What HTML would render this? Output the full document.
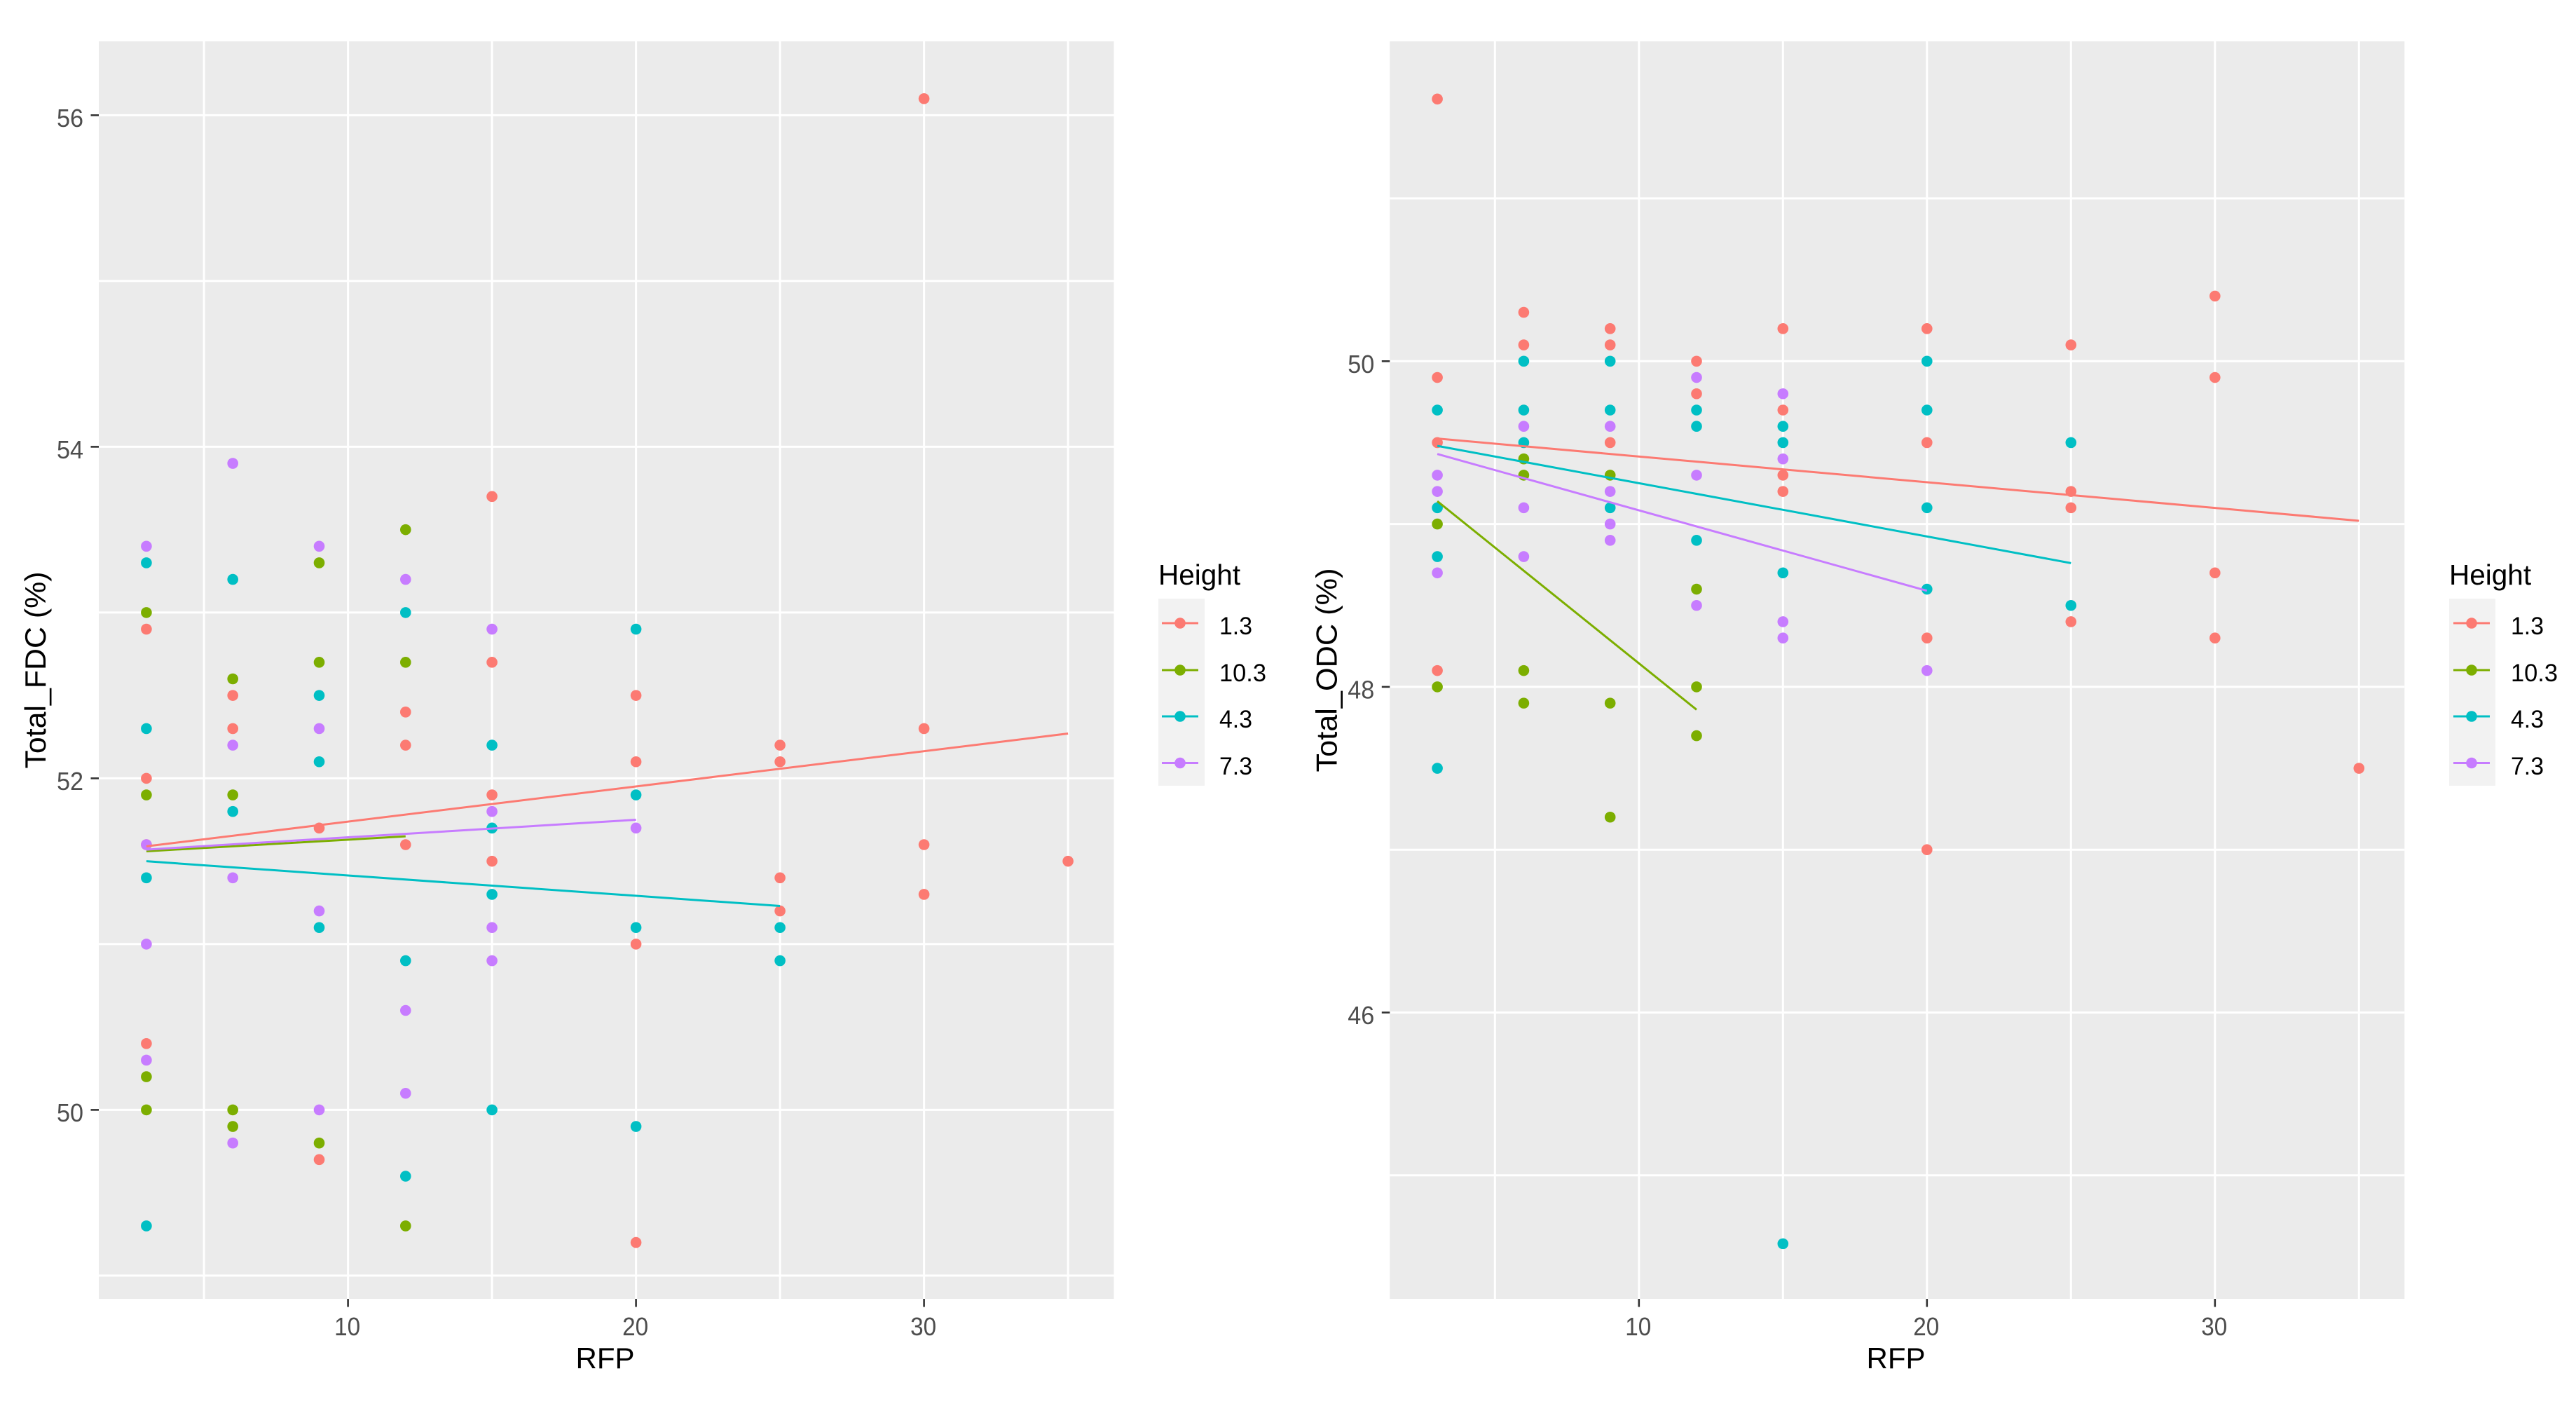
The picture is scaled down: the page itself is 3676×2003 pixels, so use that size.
<!DOCTYPE html>
<html lang="en">
<head>
<meta charset="utf-8">
<title>Total FDC and ODC versus RFP by Height</title>
<style>
html,body{margin:0;padding:0;background:#fff;}
svg{display:block;}
text{font-family:"Liberation Sans",Arial,sans-serif;}
.tick{fill:#4D4D4D;font-size:36px;}
.title{fill:#000;font-size:42px;}
.legt{fill:#000;font-size:40.5px;}
.legl{fill:#000;font-size:35px;}
</style>
</head>
<body>
<svg id="fig" xmlns="http://www.w3.org/2000/svg" width="3676" height="2003" viewBox="0 0 3676 2003">
  <rect x="0" y="0" width="3676" height="2003" fill="#fff"/>
  <g id="chart-fdc"></g>
  <g id="chart-odc"></g>

  <text class="title" x="863.5" y="1952" text-anchor="middle">RFP</text>
  <text class="title" transform="translate(65,956) rotate(-90)" text-anchor="middle" textLength="281" lengthAdjust="spacingAndGlyphs">Total_FDC (%)</text>
  <text class="title" x="2705.5" y="1952" text-anchor="middle">RFP</text>
  <text class="title" transform="translate(1907.5,956) rotate(-90)" text-anchor="middle" textLength="291" lengthAdjust="spacingAndGlyphs">Total_ODC (%)</text>

  <g>
    <text class="legt" x="1653" y="834">Height</text>
    <rect x="1653" y="854" width="66" height="267" fill="#F2F2F2"/>
    <g><line x1="1658" x2="1710" y1="889" y2="889" stroke="#FC7A72" stroke-width="3"/><circle cx="1684" cy="889" r="7.8" fill="#FC7A72"/><text class="legl" x="1740" y="905" textLength="47" lengthAdjust="spacingAndGlyphs">1.3</text></g>
    <g><line x1="1658" x2="1710" y1="956" y2="956" stroke="#7CAE00" stroke-width="3"/><circle cx="1684" cy="956" r="7.8" fill="#7CAE00"/><text class="legl" x="1740" y="972" textLength="67" lengthAdjust="spacingAndGlyphs">10.3</text></g>
    <g><line x1="1658" x2="1710" y1="1022" y2="1022" stroke="#00BFC4" stroke-width="3"/><circle cx="1684" cy="1022" r="7.8" fill="#00BFC4"/><text class="legl" x="1740" y="1038" textLength="47" lengthAdjust="spacingAndGlyphs">4.3</text></g>
    <g><line x1="1658" x2="1710" y1="1088.5" y2="1088.5" stroke="#C77CFF" stroke-width="3"/><circle cx="1684" cy="1088.5" r="7.8" fill="#C77CFF"/><text class="legl" x="1740" y="1105" textLength="47" lengthAdjust="spacingAndGlyphs">7.3</text></g>
  </g>

  <g>
    <text class="legt" x="3495" y="834">Height</text>
    <rect x="3495" y="854" width="66" height="267" fill="#F2F2F2"/>
    <g><line x1="3501" x2="3553" y1="889" y2="889" stroke="#FC7A72" stroke-width="3"/><circle cx="3527" cy="889" r="7.8" fill="#FC7A72"/><text class="legl" x="3583" y="905" textLength="47" lengthAdjust="spacingAndGlyphs">1.3</text></g>
    <g><line x1="3501" x2="3553" y1="956" y2="956" stroke="#7CAE00" stroke-width="3"/><circle cx="3527" cy="956" r="7.8" fill="#7CAE00"/><text class="legl" x="3583" y="972" textLength="67" lengthAdjust="spacingAndGlyphs">10.3</text></g>
    <g><line x1="3501" x2="3553" y1="1022" y2="1022" stroke="#00BFC4" stroke-width="3"/><circle cx="3527" cy="1022" r="7.8" fill="#00BFC4"/><text class="legl" x="3583" y="1038" textLength="47" lengthAdjust="spacingAndGlyphs">4.3</text></g>
    <g><line x1="3501" x2="3553" y1="1088.5" y2="1088.5" stroke="#C77CFF" stroke-width="3"/><circle cx="3527" cy="1088.5" r="7.8" fill="#C77CFF"/><text class="legl" x="3583" y="1105" textLength="47" lengthAdjust="spacingAndGlyphs">7.3</text></g>
  </g>
</svg>

<script>
// ---- Shared axis data ----
const xMajorTicks = [10, 20, 30];
const xMinorTicks = [5, 15, 25, 35];
const heights = ['1.3', '10.3', '4.3', '7.3'];

// ---- Total_FDC data ----
const fdcYMajorTicks = [50, 52, 54, 56];
const fdcYMinorTicks = [49, 51, 53, 55];

const fdcRfp13 = [3,3,3,3, 6,6, 9,9, 12,12,12, 15,15,15,15, 20,20,20,20, 25,25,25,25, 30,30,30,30, 35];
const fdcVal13 = [52.9,52.0,51.6,50.4, 52.5,52.3, 51.7,49.7, 52.4,52.2,51.6, 53.7,52.7,51.9,51.5, 52.5,52.1,51.0,49.2, 52.2,52.1,51.4,51.2, 56.1,52.3,51.6,51.3, 51.5];
const fdcRfp103 = [3,3,3,3, 6,6,6,6, 9,9,9, 12,12,12];
const fdcVal103 = [53.0,51.9,50.2,50.0, 52.6,51.9,50.0,49.9, 53.3,52.7,49.8, 53.5,52.7,49.3];
const fdcRfp43 = [3,3,3,3, 6,6, 9,9,9, 12,12,12, 15,15,15,15, 20,20,20,20, 25,25];
const fdcVal43 = [53.3,52.3,51.4,49.3, 53.2,51.8, 52.5,52.1,51.1, 53.0,50.9,49.6, 52.2,51.7,51.3,50.0, 52.9,51.9,51.1,49.9, 51.1,50.9];
const fdcRfp73 = [3,3,3,3, 6,6,6,6, 9,9,9,9, 12,12,12, 15,15,15,15, 20];
const fdcVal73 = [53.4,51.6,51.0,50.3, 53.9,52.2,51.4,49.8, 53.4,52.3,51.2,50.0, 53.2,50.6,50.1, 52.9,51.8,51.1,50.9, 51.7];

const fdcFitRfp13 = [3, 35];
const fdcFitVal13 = [51.59, 52.27];
const fdcFitRfp103 = [3, 12];
const fdcFitVal103 = [51.56, 51.65];
const fdcFitRfp43 = [3, 25];
const fdcFitVal43 = [51.50, 51.23];
const fdcFitRfp73 = [3, 20];
const fdcFitVal73 = [51.57, 51.75];

// ---- Total_ODC data ----
const odcYMajorTicks = [46, 48, 50];
const odcYMinorTicks = [45, 47, 49, 51];

const odcRfp13 = [3,3,3,3, 6,6, 9,9,9, 12,12, 15,15,15,15, 20,20,20,20, 25,25,25,25, 30,30,30,30, 35];
const odcVal13 = [51.61,49.9,49.5,48.1, 50.3,50.1, 50.2,50.1,49.5, 50.0,49.8, 50.2,49.7,49.3,49.2, 50.2,49.5,48.3,47.0, 50.1,49.2,49.1,48.4, 50.4,49.9,48.7,48.3, 47.5];
const odcRfp103 = [3,3, 6,6,6,6, 9,9,9, 12,12,12];
const odcVal103 = [49.0,48.0, 49.4,49.3,48.1,47.9, 49.3,47.9,47.2, 48.6,48.0,47.7];
const odcRfp43 = [3,3,3,3, 6,6,6, 9,9,9, 12,12,12, 15,15,15,15, 20,20,20,20, 25,25];
const odcVal43 = [49.7,49.1,48.8,47.5, 50.0,49.7,49.5, 50.0,49.7,49.1, 49.7,49.6,48.9, 49.6,49.5,48.7,44.58, 50.0,49.7,49.1,48.6, 49.5,48.5];
const odcRfp73 = [3,3,3, 6,6,6, 9,9,9,9, 12,12,12, 15,15,15,15, 20];
const odcVal73 = [49.3,49.2,48.7, 49.6,49.1,48.8, 49.6,49.2,49.0,48.9, 49.9,49.3,48.5, 49.8,49.4,48.4,48.3, 48.1];

const odcFitRfp13 = [3, 35];
const odcFitVal13 = [49.525, 49.02];
const odcFitRfp103 = [3, 12];
const odcFitVal103 = [49.14, 47.86];
const odcFitRfp43 = [3, 25];
const odcFitVal43 = [49.48, 48.76];
const odcFitRfp73 = [3, 20];
const odcFitVal73 = [49.43, 48.59];

// ---- Drawing ----
const NS = 'http://www.w3.org/2000/svg';
const seriesColors = ['#FC7A72', '#7CAE00', '#00BFC4', '#C77CFF'];

function mk(parent, tag, attrs, text) {
  const el = document.createElementNS(NS, tag);
  for (const k in attrs) el.setAttribute(k, attrs[k]);
  if (text !== undefined) el.textContent = text;
  parent.appendChild(el);
  return el;
}

function drawChart(rootId, prefix, layout, yMajor, yMinor, rfpSets, valSets, fitRfpSets, fitValSets) {
  const root = document.getElementById(rootId);
  const xPos = v => layout.x10 + (v - 10) * layout.xUnit;
  const yPos = v => layout.yRef + (layout.yRefVal - v) * layout.yUnit;

  const panel = mk(root, 'rect', {x: layout.left, y: layout.top, width: layout.right - layout.left, height: layout.bottom - layout.top, fill: '#EBEBEB'});
  
  

  yMinor.forEach(v => {
    const g = mk(root, 'line', {x1: layout.left, x2: layout.right, y1: yPos(v), y2: yPos(v), stroke: '#fff', 'stroke-width': 3});
    
    
  });
  xMinorTicks.forEach(v => {
    const g = mk(root, 'line', {x1: xPos(v), x2: xPos(v), y1: layout.top, y2: layout.bottom, stroke: '#fff', 'stroke-width': 3});
    
    
  });
  yMajor.forEach(v => {
    const g = mk(root, 'line', {x1: layout.left, x2: layout.right, y1: yPos(v), y2: yPos(v), stroke: '#fff', 'stroke-width': 3});
    
    
    const t = mk(root, 'line', {x1: layout.left - 11.5, x2: layout.left, y1: yPos(v), y2: yPos(v), stroke: '#333', 'stroke-width': 2.6});
    
    
    const l = mk(root, 'text', {class: 'tick', x: layout.left - 22, y: yPos(v) + 16.5, 'text-anchor': 'end', textLength: 38, lengthAdjust: 'spacingAndGlyphs'}, String(v));
    
    
  });
  xMajorTicks.forEach(v => {
    const g = mk(root, 'line', {x1: xPos(v), x2: xPos(v), y1: layout.top, y2: layout.bottom, stroke: '#fff', 'stroke-width': 3});
    
    
    const t = mk(root, 'line', {x1: xPos(v), x2: xPos(v), y1: layout.bottom, y2: layout.bottom + 11.5, stroke: '#333', 'stroke-width': 2.6});
    
    
    const l = mk(root, 'text', {class: 'tick', x: xPos(v) - 1, y: 1905, 'text-anchor': 'middle', textLength: 37, lengthAdjust: 'spacingAndGlyphs'}, String(v));
    
    
  });

  heights.forEach((h, s) => {
    const grp = mk(root, 'g', {});
    
    
    rfpSets[s].forEach((r, i) => {
      const c = mk(grp, 'circle', {cx: xPos(r), cy: yPos(valSets[s][i]), r: 7.8, fill: seriesColors[s]});
      
      
    });
  });

  heights.forEach((h, s) => {
    const rs = fitRfpSets[s];
    const vs = fitValSets[s];
    const ln = mk(root, 'polyline', {points: rs.map((r, i) => xPos(r) + ',' + yPos(vs[i])).join(' '), fill: 'none', stroke: seriesColors[s], 'stroke-width': 3});
    
    
  });
}

drawChart('chart-fdc', 'fdc',
  {left: 141, right: 1589.5, top: 59, bottom: 1853, x10: 496.6, xUnit: 41.1, yRef: 1583.4, yRefVal: 50, yUnit: 236.5},
  fdcYMajorTicks, fdcYMinorTicks,
  [fdcRfp13, fdcRfp103, fdcRfp43, fdcRfp73],
  [fdcVal13, fdcVal103, fdcVal43, fdcVal73],
  [fdcFitRfp13, fdcFitRfp103, fdcFitRfp43, fdcFitRfp73],
  [fdcFitVal13, fdcFitVal103, fdcFitVal43, fdcFitVal73]);

drawChart('chart-odc', 'odc',
  {left: 1983.3, right: 3431.3, top: 59, bottom: 1853, x10: 2338.8, xUnit: 41.1, yRef: 515.3, yRefVal: 50, yUnit: 232.3},
  odcYMajorTicks, odcYMinorTicks,
  [odcRfp13, odcRfp103, odcRfp43, odcRfp73],
  [odcVal13, odcVal103, odcVal43, odcVal73],
  [odcFitRfp13, odcFitRfp103, odcFitRfp43, odcFitRfp73],
  [odcFitVal13, odcFitVal103, odcFitVal43, odcFitVal73]);
</script>
</body>
</html>
